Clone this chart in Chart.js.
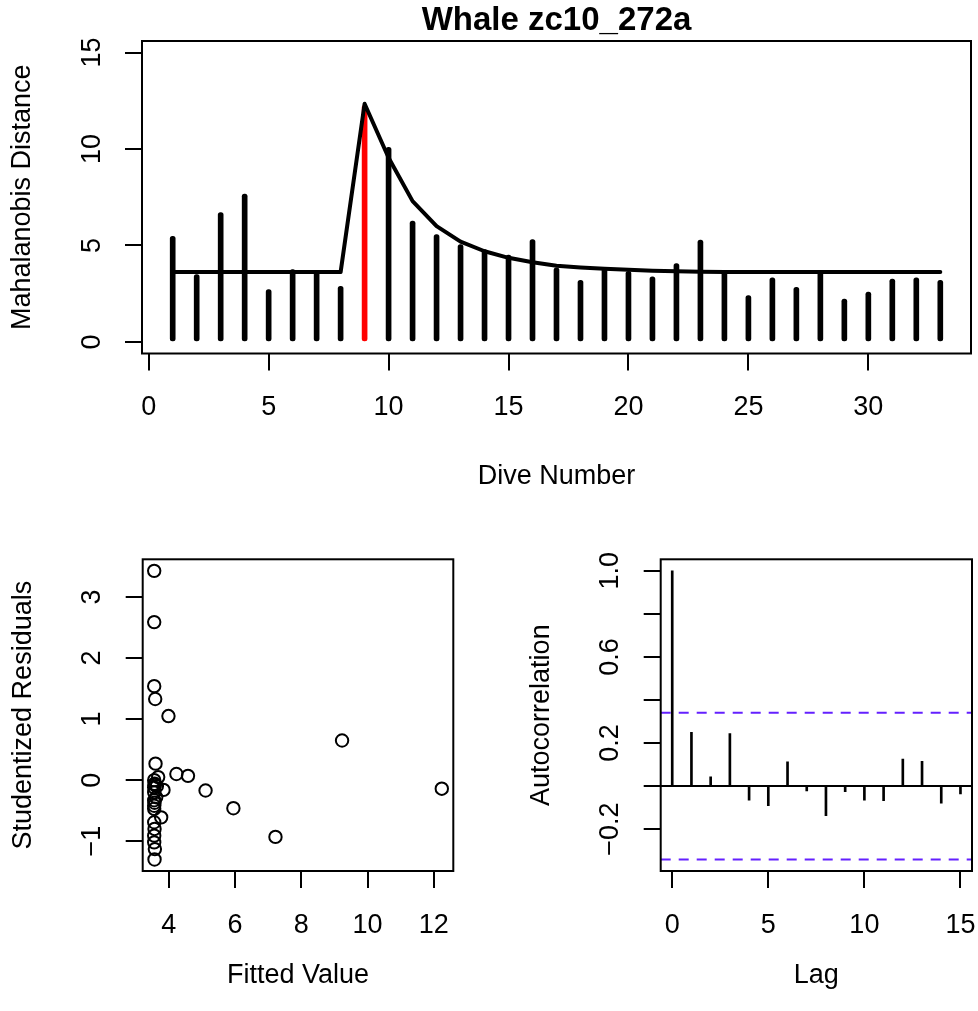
<!DOCTYPE html>
<html>
<head>
<meta charset="utf-8">
<title>Whale zc10_272a</title>
<script src="https://cdn.jsdelivr.net/npm/chart.js@4.4.1/dist/chart.umd.min.js"></script>
<style>
  html, body { margin: 0; padding: 0; background: #fff; overflow: hidden; }
  #page { position: relative; width: 978px; height: 1011px; }
  canvas { position: absolute; }
  #distChart { left: 0; top: 0; }
  #residChart { left: 0; top: 505px; }
  #acfChart { left: 489px; top: 505px; }
</style>
</head>
<body>
<div id="page">
  <canvas id="distChart" width="978" height="505"></canvas>
  <canvas id="residChart" width="489" height="506"></canvas>
  <canvas id="acfChart" width="489" height="506"></canvas>
</div>
<script>
// Mahalanobis distance per dive, with the fitted decay curve
const diveNumbers = [1, 2, 3, 4, 5, 6, 7, 8, 9, 10, 11, 12, 13, 14, 15, 16, 17,
  18, 19, 20, 21, 22, 23, 24, 25, 26, 27, 28, 29, 30, 31, 32, 33];
const distances = [5.48, 3.49, 6.70, 7.66, 2.71, 3.75, 3.66, 2.88, 12.26, 10.09, 6.27,
  5.57, 5.05, 4.79, 4.50, 5.31, 3.84, 3.19, 3.82, 3.66, 3.37, 4.06, 5.28, 3.66, 2.40,
  3.32, 2.83, 3.66, 2.22, 2.59, 3.26, 3.32, 3.19];
const fittedCurve = [3.62, 3.62, 3.62, 3.62, 3.62, 3.62, 3.62, 3.62, 12.35, 9.55, 7.30,
  6.00, 5.20, 4.70, 4.36, 4.13, 3.95, 3.86, 3.79, 3.74, 3.69, 3.66, 3.64, 3.63, 3.63,
  3.62, 3.62, 3.62, 3.62, 3.62, 3.62, 3.62, 3.62];
const flaggedDive = 9;
const diveTicks = [0, 5, 10, 15, 20, 25, 30];
const distanceTicks = [0, 5, 10, 15];
const distanceLimits = [0, 15];

// studentized residuals against fitted values (same dive order)
const fittedValues = [3.56, 3.56, 3.56, 3.56, 3.56, 3.56, 3.56, 3.56, 12.24, 9.23, 7.22,
  5.95, 5.11, 4.58, 4.23, 3.99, 3.84, 3.77, 3.68, 3.64, 3.62, 3.60, 3.59, 3.58, 3.58,
  3.57, 3.57, 3.57, 3.57, 3.56, 3.56, 3.56, 3.56];
const studentResiduals = [1.54, -0.20, 2.59, 3.43, -0.91, 0.00, -0.12, -0.69, -0.14, 0.65,
  -0.93, -0.46, -0.17, 0.07, 0.10, 1.05, -0.16, -0.61, 0.05, -0.10, -0.28, 0.27, 1.33,
  -0.08, -1.13, -0.37, -0.80, -0.06, -1.30, -1.02, -0.42, -0.33, -0.47];
const fittedTicks = [4, 6, 8, 10, 12];
const residualTicks = [-1, 0, 1, 2, 3];

// autocorrelation of the residuals
const lags = [0, 1, 2, 3, 4, 5, 6, 7, 8, 9, 10, 11, 12, 13, 14, 15];
const acfValues = [1.0, 0.25, 0.043, 0.244, -0.065, -0.091, 0.113, -0.022, -0.138,
  -0.026, -0.065, -0.068, 0.125, 0.115, -0.08, -0.037];
const acfBound = 0.341;
const lagTicks = [0, 5, 10, 15];
const acfTicks = [-0.2, 0, 0.2, 0.4, 0.6, 0.8, 1.0];
const acfTickLabels = ['\u22120.2', '', '0.2', '', '0.6', '', '1.0'];

const SIZE = 27;
Chart.defaults.font.family = "'Liberation Sans', Arial, sans-serif";
Chart.defaults.color = '#000';
Chart.defaults.animation = false;
Chart.defaults.plugins.legend.display = false;
Chart.defaults.plugins.tooltip.enabled = false;

// R style axis range: data range plus 4% each side
function padRange(lo, hi) {
  const d = (hi - lo) * 0.04;
  return [lo - d, hi + d];
}
const minus = v => String(v).replace('-', '\u2212');

const tickGrid = {
  display: true, drawOnChartArea: false, offset: false,
  tickLength: 17, lineWidth: 2, color: '#000'
};

function axisX(range, ticks, title, height, titlePad) {
  return {
    type: 'linear', position: 'bottom', min: range[0], max: range[1], offset: false,
    afterBuildTicks: s => { s.ticks = ticks.map(v => ({ value: v })); },
    afterFit: s => { s.height = height; s.paddingLeft = 0; s.paddingRight = 0; },
    grid: tickGrid,
    border: { display: false },
    ticks: { font: { size: SIZE }, padding: 21, maxRotation: 0, autoSkip: false, callback: v => minus(v) },
    title: { display: true, text: title, font: { size: SIZE }, padding: { top: 0, bottom: titlePad } }
  };
}

function axisY(range, ticks, title, width, tickPad, titlePad, labelFor) {
  return {
    type: 'linear', position: 'left', min: range[0], max: range[1],
    afterBuildTicks: s => { s.ticks = ticks.map(v => ({ value: v })); },
    afterFit: s => { s.width = width; s.paddingTop = 0; s.paddingBottom = 0; },
    grid: tickGrid,
    border: { display: false },
    ticks: {
      font: { size: SIZE }, padding: tickPad, minRotation: 90, maxRotation: 90,
      crossAlign: 'center', autoSkip: false, callback: labelFor || (v => minus(v))
    },
    title: { display: true, text: title, font: { size: SIZE }, padding: { top: titlePad, bottom: 0 } }
  };
}

// box around each plotting region
const frame = {
  id: 'frame',
  afterDraw(chart) {
    const { ctx, chartArea: a } = chart;
    ctx.save();
    ctx.strokeStyle = '#000';
    ctx.lineWidth = 2;
    ctx.strokeRect(a.left, a.top, a.right - a.left, a.bottom - a.top);
    ctx.restore();
  }
};

// top: distance spikes
new Chart(document.getElementById('distChart'), {
  type: 'bar',
  data: {
    datasets: [{
      type: 'line',
      data: diveNumbers.map((d, i) => ({ x: d, y: fittedCurve[i] })),
      borderColor: '#000', borderWidth: 4, pointRadius: 0, tension: 0,
      borderCapStyle: 'round', borderJoinStyle: 'round', order: 0
    }, {
      type: 'bar',
      data: diveNumbers.map((d, i) => ({ x: d, y: distances[i] })),
      backgroundColor: diveNumbers.map(d => d === flaggedDive ? '#ff0000' : '#000'),
      barThickness: 5, borderRadius: 2.5, borderSkipped: false, order: 1
    }]
  },
  options: {
    responsive: false,
    layout: { padding: { left: 0, right: 7, top: 0, bottom: 0 } },
    plugins: {
      title: {
        display: true, text: 'Whale zc10_272a', fullSize: false,
        font: { size: 33, weight: 'bold', lineHeight: 1 },
        padding: { top: 4, bottom: 4 }
      }
    },
    scales: {
      x: axisX(padRange(1, 33), diveTicks, 'Dive Number', 151.5, 12.2),
      y: axisY(padRange(distanceLimits[0], distanceLimits[1]), distanceTicks, 'Mahalanobis Distance', 142, 17.7, 6.4)
    }
  },
  plugins: [frame]
});

// bottom left: residuals vs fitted
new Chart(document.getElementById('residChart'), {
  type: 'scatter',
  data: {
    datasets: [{
      data: fittedValues.map((f, i) => ({ x: f, y: studentResiduals[i] })),
      pointRadius: 6.2, pointBorderWidth: 2, borderColor: '#000',
      backgroundColor: 'rgba(0,0,0,0)', pointStyle: 'circle'
    }]
  },
  options: {
    responsive: false,
    layout: { padding: { left: 0, right: 35.7, top: 54.3, bottom: 0 } },
    scales: {
      x: axisX(padRange(Math.min(...fittedValues), Math.max(...fittedValues)), fittedTicks, 'Fitted Value', 140, 19.5),
      y: axisY(padRange(Math.min(...studentResiduals), Math.max(...studentResiduals)), residualTicks, 'Studentized Residuals', 142.7, 17.3, 7.1)
    }
  },
  plugins: [frame]
});

// bottom right: residual ACF
const lagRange = padRange(lags[0], lags[lags.length - 1]);
const flatLine = (y, color, dash) => ({
  type: 'line',
  data: [{ x: lagRange[0], y: y }, { x: lagRange[1], y: y }],
  borderColor: color, borderWidth: 2, borderDash: dash, pointRadius: 0
});
new Chart(document.getElementById('acfChart'), {
  type: 'bar',
  data: {
    datasets: [
      flatLine(acfBound, '#6420ff', [10, 8]),
      flatLine(-acfBound, '#6420ff', [10, 8]),
      flatLine(0, '#000', []),
      {
        type: 'bar',
        data: lags.map((l, i) => ({ x: l, y: acfValues[i] })),
        backgroundColor: '#000', barThickness: 2
      }
    ]
  },
  options: {
    responsive: false,
    layout: { padding: { left: 0, right: 6, top: 54.3, bottom: 0 } },
    scales: {
      x: axisX(lagRange, lagTicks, 'Lag', 140, 19.5),
      y: axisY(padRange(-acfBound, Math.max(...acfValues)), acfTicks, 'Autocorrelation', 171.7, 6.05, 36.1,
        (v, i) => acfTickLabels[i])
    }
  },
  plugins: [frame]
});
</script>
</body>
</html>
